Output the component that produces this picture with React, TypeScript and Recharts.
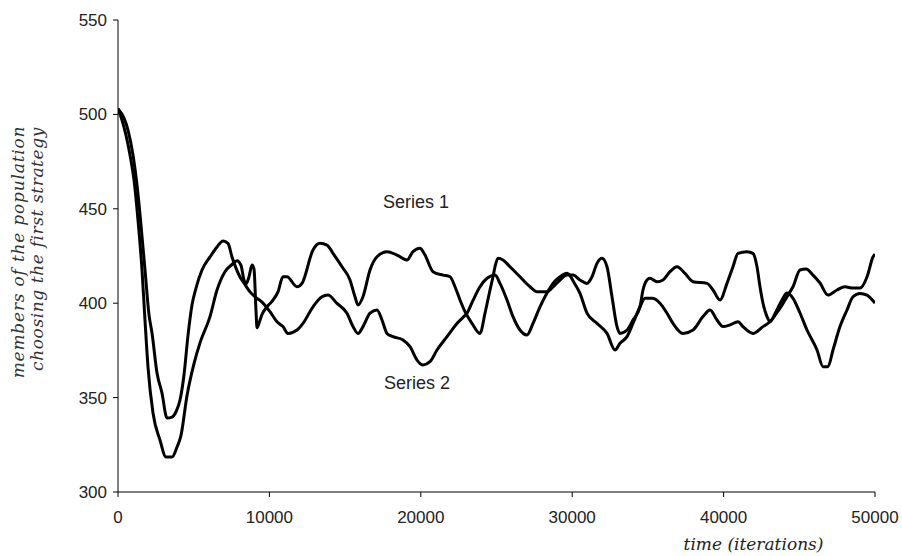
import React from 'react';
import { LineChart, Line, XAxis, YAxis, ReferenceDot } from 'recharts';

// Series 1: time (iterations) and population values
const s1Time = [0, 264, 528, 793, 1057, 1321, 1585, 1783, 1982, 2312, 2774, 3170, 3567, 3897, 4161, 4557, 5020, 5416, 6077, 6539, 7067, 7530, 7860, 8124, 8322, 8454, 8653, 8851, 8983, 9115, 9181, 9379, 9511, 9841, 10172, 10568, 10898, 11162, 11823, 12153, 12880, 13342, 13805, 14201, 14796, 15323, 15654, 15852, 16182, 16645, 17107, 17767, 18428, 19088, 19485, 19947, 20277, 20806, 21466, 21929, 22259, 22589, 22919, 23382, 23910, 24241, 24571, 24769, 24901, 25099, 25429, 25892, 26552, 27213, 27675, 28336, 28732, 29194, 29657, 30053, 30515, 30978, 31308, 31638, 31969, 32299, 32629, 32959, 33157, 33620, 34016, 34478, 34676, 34940, 35139, 35601, 35997, 36460, 36922, 37450, 37979, 38903, 39300, 39762, 40224, 40620, 40951, 41546, 41942, 42206, 42404, 42602, 42866, 43065, 43461, 43857, 44187, 44584, 45046, 45508, 46169, 46565, 46896, 47226, 47688, 48150, 48547, 49009, 49471, 50000];
const s1Value = [503, 497, 489, 478.5, 465.3, 444, 417.6, 391, 366.2, 341.8, 327.5, 318.5, 318.5, 323.8, 330, 351, 368, 379, 392.9, 407, 416.7, 420.5, 422.5, 420, 412.3, 410.2, 414, 420.2, 418, 396, 387, 391, 394, 398.1, 401, 406, 414, 414, 408.7, 410.5, 428.2, 431.7, 430.8, 426.4, 419.3, 412.3, 403.4, 399, 403.4, 417.6, 424.6, 427.3, 425.5, 422.9, 427.3, 429.1, 425.5, 416.7, 414.9, 414, 408.7, 401.7, 395.5, 389.3, 384, 394.7, 407, 414, 419.3, 423.8, 422.9, 419.3, 414, 408.7, 406.1, 406.1, 408.7, 412.3, 414.9, 414.9, 412.3, 410.5, 414, 421.1, 423.8, 419.3, 403.4, 387.6, 384, 385.8, 391.1, 398.1, 407, 412.3, 413.2, 411.4, 412.3, 416.7, 419.3, 415.8, 411.4, 410.5, 407, 401.7, 410.5, 419.3, 426.4, 427.3, 426.4, 419.3, 408.7, 400, 392.9, 390.2, 395.5, 401.7, 405.4, 402.6, 394.8, 385.8, 375.2, 366.4, 366.4, 375.2, 387.6, 396.4, 403.4, 405.2, 404.3, 400];

// Series 2
const s2Time = [0, 396, 660, 991, 1255, 1519, 1783, 2048, 2246, 2576, 2906, 3236, 3567, 3831, 4095, 4359, 4624, 4888, 5152, 5548, 6077, 6539, 6935, 7266, 7530, 7794, 8058, 8322, 8719, 9115, 9511, 10040, 10502, 10898, 11229, 11823, 12219, 12880, 13474, 13870, 14465, 15125, 15522, 15852, 16182, 16645, 17107, 17437, 17767, 18164, 18824, 19287, 19749, 20145, 20608, 21070, 21731, 22391, 22787, 23052, 23448, 23910, 24373, 24901, 25231, 25694, 26090, 26552, 27014, 27411, 27873, 28336, 28732, 29194, 29657, 30119, 30515, 30978, 31638, 32299, 32827, 33157, 33620, 34016, 34478, 34808, 35271, 35799, 36261, 36658, 37318, 37979, 38639, 39102, 39564, 39960, 40422, 40951, 41281, 41942, 42602, 43065, 43461, 43857, 44254, 44584, 45046, 45442, 45905, 46367, 46896, 47490, 48018, 48547, 49009, 49471, 49867, 50000];
const s2Value = [503, 498, 491.7, 478.5, 462.6, 441.4, 417.6, 393.8, 384.2, 363, 352.4, 339.2, 339.7, 342.5, 348.7, 362, 383, 399, 408, 417.6, 424.5, 429.8, 433, 431.7, 424.5, 418.6, 413.9, 410.7, 406, 403, 400.6, 395.5, 390.2, 387.6, 384, 385.8, 389.3, 398.1, 403.4, 404.3, 399.9, 394.7, 387.6, 384, 387.6, 394.7, 396.4, 391.1, 384, 382.3, 380.5, 377, 369.9, 367.3, 369, 375.2, 382.3, 389.3, 392.5, 394.7, 401.5, 408.7, 413.2, 414.9, 410.5, 401.7, 392.9, 385.8, 383.2, 389.3, 398.1, 405.4, 410.5, 414, 415.8, 411, 405.2, 394.7, 389.3, 384, 375.2, 378.8, 382.3, 389.3, 398.1, 402.6, 402.6, 400, 394.7, 389.3, 384, 385.8, 392.9, 396.4, 391.1, 387.6, 388.5, 390.2, 387.6, 384, 387.6, 390.2, 394.3, 399, 404.3, 408.7, 417.6, 418.1, 414.9, 410.7, 404.3, 407, 408.7, 408, 408, 413.9, 424.5, 426];

const xTicks = [0, 10000, 20000, 30000, 40000, 50000];
const yTicks = [300, 350, 400, 450, 500, 550];
const seriesNames = ['Series 1', 'Series 2'];
const seriesLabelAt = [
  { t: 19683, v: 453.6 },
  { t: 19750, v: 357.7 },
];

const series1 = s1Time.map((t, i) => ({ t, v: s1Value[i] }));
const series2 = s2Time.map((t, i) => ({ t, v: s2Value[i] }));

const tickStyle = { fontFamily: '"Liberation Sans", Arial, sans-serif', fontSize: 17, fill: '#222' };
const titleFont = '"DejaVu Serif", serif';

export default function App() {
  return (
    <div style={{ position: 'relative', width: 902, height: 556 }}>
      <style>{'html,body{margin:0;padding:0;overflow:hidden;}'}</style>
      <LineChart width={902} height={556} margin={{ top: 20, right: 27, bottom: 0, left: 0 }}>
        <XAxis
          type="number"
          dataKey="t"
          domain={[0, 50000]}
          ticks={xTicks}
          tick={tickStyle}
          tickSize={5}
          tickMargin={14}
          height={64}
          stroke="#000"
          allowDataOverflow
        />
        <YAxis
          type="number"
          dataKey="v"
          domain={[300, 550]}
          ticks={yTicks}
          tick={tickStyle}
          tickSize={5}
          tickMargin={6}
          width={118}
          stroke="#000"
          allowDataOverflow
        />
        <Line data={series1} dataKey="v" name={seriesNames[0]} type="monotone" stroke="#000" strokeWidth={3} dot={false} isAnimationActive={false} />
        <Line data={series2} dataKey="v" name={seriesNames[1]} type="monotone" stroke="#000" strokeWidth={3} dot={false} isAnimationActive={false} />
        {seriesLabelAt.map((p, i) => (
          <ReferenceDot
            key={i}
            x={p.t}
            y={p.v}
            r={0}
            fill="none"
            stroke="none"
            label={{ value: seriesNames[i], position: 'center', fill: '#222', fontSize: 18, fontFamily: '"Liberation Sans", Arial, sans-serif' }}
          />
        ))}
      </LineChart>
      <svg width={902} height={556} style={{ position: 'absolute', left: 0, top: 0, pointerEvents: 'none' }}>
        <text x={24} y={252} transform="rotate(-90 24 252)" textAnchor="middle" fontFamily={titleFont} fontStyle="italic" fontSize={17} letterSpacing={0.8} fill="#333">
          members of the population
        </text>
        <text x={43} y={249} transform="rotate(-90 43 249)" textAnchor="middle" fontFamily={titleFont} fontStyle="italic" fontSize={17} letterSpacing={0.6} fill="#333">
          choosing the first strategy
        </text>
        <text x={753.5} y={550} textAnchor="middle" fontFamily={titleFont} fontStyle="italic" fontSize={17} fill="#222">
          time (iterations)
        </text>
      </svg>
    </div>
  );
}
